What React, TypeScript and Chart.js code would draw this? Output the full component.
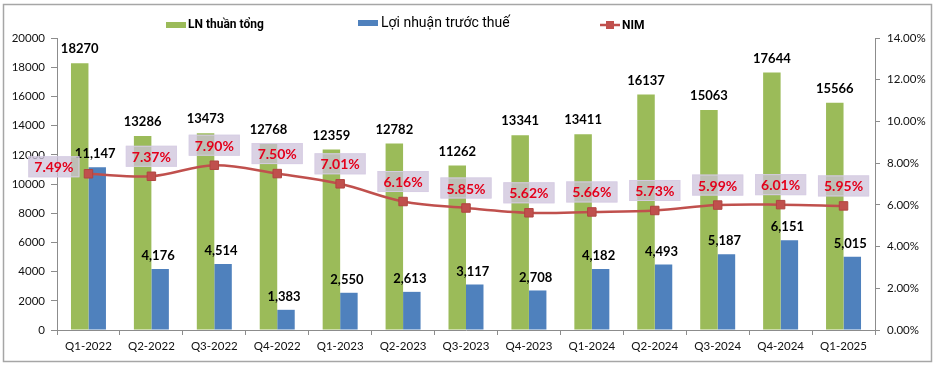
import React, { useEffect, useRef } from "react";
import { Chart, registerables } from "chart.js";

Chart.register(...registerables);

const categories = [
  "Q1-2022", "Q2-2022", "Q3-2022", "Q4-2022", "Q1-2023", "Q2-2023", "Q3-2023",
  "Q4-2023", "Q1-2024", "Q2-2024", "Q3-2024", "Q4-2024", "Q1-2025",
];
const lnThuanTong = [18270, 13286, 13473, 12768, 12359, 12782, 11262, 13341, 13411, 16137, 15063, 17644, 15566];
const loiNhuanTruocThue = [11147, 4176, 4514, 1383, 2550, 2613, 3117, 2708, 4182, 4493, 5187, 6151, 5015];
const nim = [7.49, 7.37, 7.9, 7.5, 7.01, 6.16, 5.85, 5.62, 5.66, 5.73, 5.99, 6.01, 5.95];

const leftMax = 20000;
const leftStep = 2000;
const rightMax = 14;
const rightStep = 2;

const seriesNames = ["LN thuần tổng", "Lợi nhuận trước thuế", "NIM"];

const GREEN = "#9BBB59";
const BLUE = "#4F81BD";
const RED = "#C0504D";
const AXIS = "#8C8C8C";
const NUM_FONT = "Lato, 'Liberation Sans', sans-serif";
const VN_FONT = "Roboto, 'Noto Sans', sans-serif";

const framePlugin = {
  id: "frame",
  beforeDraw(chart: any) {
    const ctx = chart.ctx;
    ctx.save();
    ctx.fillStyle = "#fff";
    ctx.fillRect(0, 0, chart.width, chart.height);
    ctx.strokeStyle = "#A6A6A6";
    ctx.lineWidth = 1.5;
    ctx.strokeRect(3.5, 4.5, chart.width - 7, chart.height - 9);
    ctx.restore();
  },
};

const legendPlugin = {
  id: "customLegend",
  afterDraw(chart: any) {
    const ctx = chart.ctx;
    ctx.save();
    ctx.textBaseline = "middle";
    ctx.textAlign = "left";
    // item 1
    ctx.fillStyle = GREEN;
    ctx.fillRect(166, 22, 20, 6);
    ctx.fillStyle = "#000";
    ctx.font = `bold 12px ${VN_FONT}`;
    ctx.fillText(seriesNames[0], 188, 25);
    // item 2
    ctx.fillStyle = BLUE;
    ctx.fillRect(358, 20, 20, 6);
    ctx.fillStyle = "#000";
    ctx.font = `14px ${VN_FONT}`;
    ctx.fillText(seriesNames[1], 381, 23);
    // item 3
    ctx.strokeStyle = RED;
    ctx.lineWidth = 2.5;
    ctx.beginPath();
    ctx.moveTo(600, 25);
    ctx.lineTo(620, 25);
    ctx.stroke();
    ctx.fillStyle = RED;
    ctx.fillRect(606, 21, 8, 8);
    ctx.fillStyle = "#000";
    ctx.font = `bold 12px ${VN_FONT}`;
    ctx.fillText(seriesNames[2], 622, 26);
    ctx.restore();
  },
};

const labelsPlugin = {
  id: "valueLabels",
  afterDatasetsDraw(chart: any) {
    const ctx = chart.ctx;
    ctx.save();
    ctx.textAlign = "center";
    ctx.textBaseline = "middle";
    // green bar labels
    const gMeta = chart.getDatasetMeta(1);
    ctx.font = `bold 13px ${NUM_FONT}`;
    ctx.fillStyle = "#000";
    gMeta.data.forEach((el: any, i: number) => {
      ctx.fillText(String(lnThuanTong[i]), el.x, el.y - 14);
    });
    // blue bar labels
    const bMeta = chart.getDatasetMeta(2);
    bMeta.data.forEach((el: any, i: number) => {
      ctx.fillText(loiNhuanTruocThue[i].toLocaleString("en-US"), el.x - 2, el.y - 13);
    });
    // NIM labels
    const lMeta = chart.getDatasetMeta(0);
    ctx.font = `bold 14px ${NUM_FONT}`;
    lMeta.data.forEach((el: any, i: number) => {
      const txt = nim[i].toFixed(2) + "%";
      const w = ctx.measureText(txt).width + 12;
      const h = 21;
      let cx = el.x;
      let cy = el.y - 20;
      if (i === 0) {
        cx = el.x - 9 - w / 2;
        cy = el.y - 7;
      }
      ctx.fillStyle = "rgba(204,192,218,0.72)";
      ctx.fillRect(cx - w / 2, cy - h / 2, w, h);
      ctx.strokeStyle = "rgba(215,205,228,0.9)";
      ctx.lineWidth = 1;
      ctx.strokeRect(cx - w / 2 + 0.5, cy - h / 2 + 0.5, w - 1, h - 1);
      ctx.fillStyle = "#E3001B";
      ctx.fillText(txt, cx, cy + 1);
    });
    ctx.restore();
  },
};

export default function App() {
  const ref = useRef<HTMLCanvasElement | null>(null);

  useEffect(() => {
    if (!ref.current) return;
    const chart = new Chart(ref.current, {
      type: "bar",
      data: {
        labels: categories,
        datasets: [
          {
            type: "line",
            label: seriesNames[2],
            data: nim,
            yAxisID: "y1",
            borderColor: RED,
            backgroundColor: RED,
            borderWidth: 2.5,
            tension: 0.35,
            pointStyle: "rect",
            pointRadius: 6,
            pointHoverRadius: 6,
            pointBackgroundColor: RED,
            pointBorderColor: "#B04541",
            pointBorderWidth: 1,
            fill: false,
            order: 0,
          } as any,
          {
            type: "bar",
            label: seriesNames[0],
            data: lnThuanTong,
            yAxisID: "y",
            backgroundColor: GREEN,
            borderWidth: 0,
            categoryPercentage: 0.556,
            barPercentage: 1.0,
            order: 1,
          },
          {
            type: "bar",
            label: seriesNames[1],
            data: loiNhuanTruocThue,
            yAxisID: "y",
            backgroundColor: BLUE,
            borderWidth: 0,
            categoryPercentage: 0.556,
            barPercentage: 1.0,
            order: 2,
          },
        ],
      },
      options: {
        responsive: false,
        animation: false,
        devicePixelRatio: 1,
        layout: { padding: { top: 38, left: 0, right: 0, bottom: 0 } },
        plugins: {
          legend: { display: false },
          tooltip: { enabled: false },
          title: { display: false },
        },
        scales: {
          x: {
            offset: true,
            grid: {
              display: true,
              offset: true,
              drawOnChartArea: false,
              drawTicks: true,
              tickLength: 5,
              color: AXIS,
            },
            border: { display: true, color: AXIS, width: 1 },
            ticks: {
              color: "#111",
              font: { family: NUM_FONT, size: 11.5 },
              padding: 4,
              maxRotation: 0,
              autoSkip: false,
            },
            afterFit: (s: any) => {
              s.height = 36;
            },
          },
          y: {
            position: "left",
            min: 0,
            max: leftMax,
            grid: {
              display: true,
              drawOnChartArea: false,
              drawTicks: true,
              tickLength: 6,
              color: AXIS,
            },
            border: { display: true, color: AXIS, width: 1 },
            ticks: {
              stepSize: leftStep,
              color: "#111",
              font: { family: NUM_FONT, size: 11.5 },
              padding: 6,
              callback: (v: any) => String(v),
            },
            afterFit: (s: any) => {
              s.width = 57;
            },
          },
          y1: {
            position: "right",
            min: 0,
            max: rightMax,
            grid: {
              display: true,
              drawOnChartArea: false,
              drawTicks: true,
              tickLength: 5,
              color: AXIS,
            },
            border: { display: true, color: AXIS, width: 1 },
            ticks: {
              stepSize: rightStep,
              color: "#111",
              font: { family: NUM_FONT, size: 11.5 },
              padding: 7,
              callback: (v: any) => Number(v).toFixed(2) + "%",
            },
            afterFit: (s: any) => {
              s.width = 60;
            },
          },
        },
      },
      plugins: [framePlugin, legendPlugin, labelsPlugin],
    });
    return () => chart.destroy();
  }, []);

  return (
    <div style={{ position: "fixed", left: 0, top: 0, width: 935, height: 366, background: "#fff" }}>
      <canvas ref={ref} width={935} height={366} style={{ display: "block" }} />
    </div>
  );
}
